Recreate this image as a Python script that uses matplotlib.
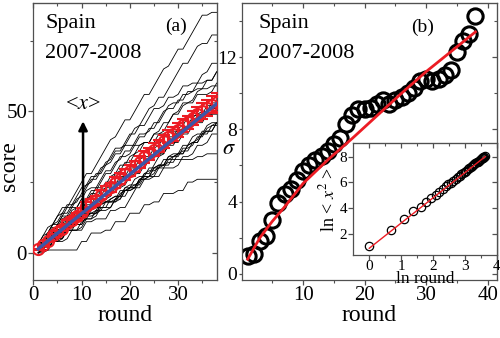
import matplotlib
matplotlib.use("Agg")
import matplotlib.pyplot as plt
import numpy as np

plt.rcParams["font.family"] = ["Liberation Serif", "DejaVu Serif"]
plt.rcParams["mathtext.fontset"] = "stix"

# match results per team, Spain 2007-2008 (W=3, D=1, L=0), 38 rounds each
results = [
    "WWWDWWLWWW" "WLWWWWDWWL" "WWWLWWWDWW" "LWWWWLDL",   # 85
    "WDWLWWWLWD" "WWLWWDWLWW" "LWWWDWLWWW" "WLWWDLWL",   # 77
    "WDWWWDWLWW" "DWLWDWWLDW" "WDLWWLDWLD" "WLDLWDWL",   # 67
    "LWWDWLWWLW" "WDLWWLWDWL" "WWLDWLWWDL" "WLDDLWLW",   # 64
    "WLWWLWDLWW" "LWLWWLWWLD" "WWLWLWWDLW" "LWLWLDLW",   # 64
    "DLWWDLWWLD" "WWLDWLWDWL" "WWDLWLDWWL" "WDLWLLDW",   # 60
    "DWDLWDWWDL" "WDWLDWDWLW" "DDWLWDWLWD" "WLDWDLDL",   # 59
    "LDWWLDWLDW" "DLWWDLLWDW" "LWDLWDWLLW" "DWLDDLWL",   # 53
    "LDLWLLDWLL" "WLDLLWLDLW" "WWWLWWDWLW" "WDWDLWLL",   # 52
    "WWDWLWLLDW" "LLWLWDLWLL" "WLLWDLWWLW" "LDWLLWDL",   # 51
    "LDWLDWLWDL" "WDLWLDWLDW" "DLWWLDLWDL" "WLWDLWLD",   # 50
    "WDWWDWLWDW" "WDWLWDWLWL" "LLDLLWLDLL" "DLWDDLLL",   # 49
    "LDLWLDWLLD" "WLDWLLWDLW" "DLWLWDLWLD" "WLWDLWDL",   # 46
    "DLLWDLWLWD" "LWDLLWDLWL" "WDLWLDLWDL" "LWDLWLWD",   # 46
    "DDLWDLWDLL" "WDLDWLDWLD" "LWDLDWLDLW" "DLWDWLLW",   # 46
    "LDWDLLWDDL" "WLDWDLLDWL" "DWLDLWDLWD" "LWDLWDLW",   # 46
    "LLDWLWDLLW" "DLWLLDWLWD" "LWLDWLLWDL" "WLDWLWDL",   # 45
    "DWLDLWDLWD" "LDLWDLLWDL" "DLWLDLWLLD" "WLDWLDWL",   # 42
    "DWLDDLWDLW" "DLDWLDDLWD" "LDWDLDWLLL" "LLLDLDLL",   # 35
    "DLLLLLLLLW" "LWLLDLWLLW" "LLWLDLWLLD" "LWLDLLLL",   # 26
]
result_points = {"W": 3, "D": 1, "L": 0}

rounds = np.arange(1, 39)

# sigma of the score per round, panel (b)
sigma = [1.0, 1.1, 1.8, 2.1, 3.0, 3.9, 4.4, 4.7, 5.2, 5.7,
         6.0, 6.3, 6.5, 6.8, 7.2, 7.5, 8.3, 8.8, 9.1, 9.1,
         9.2, 9.4, 9.6, 9.4, 9.6, 9.8, 10.0, 10.3, 10.7, 10.8,
         10.7, 10.8, 11.0, 11.3, 12.3, 12.9, 13.3, 14.3]

# red fit curve in panel (b)
fit_round = [1, 2, 3, 5, 7, 10, 14, 18, 22, 26, 30, 34, 38]
fit_sigma = [0.8, 1.4, 2.0, 2.9, 3.7, 5.0, 6.3, 7.5, 8.75, 10.0, 11.2, 12.3, 13.4]

# blue linear fit of <x> in panel (a)
mean_fit_round = [1, 38]
mean_fit_score = [1.4, 52.7]

# red line in the inset
inset_fit_x = [0.0, 3.64]
inset_fit_y = [0.92, 8.0]

RED = "#ec1c24"
BLUE = "#3b56a8"
SPINE = "#505050"


def style(ax, xmajor, xminor, ymajor, yminor, size=15):
    for s in ax.spines.values():
        s.set_color(SPINE)
        s.set_linewidth(0.9)
    ax.set_xticks(xmajor)
    ax.set_xticks(xminor, minor=True)
    ax.set_yticks(ymajor)
    ax.set_yticks(yminor, minor=True)
    ax.tick_params(which="both", direction="out", color=SPINE, labelsize=size, pad=1)
    ax.tick_params(which="major", length=3.5, width=0.9)
    ax.tick_params(which="minor", length=2.5, width=0.8)
    top = ax.secondary_xaxis("top")
    top.set_xticks(xmajor)
    top.set_xticks(xminor, minor=True)
    top.tick_params(which="both", direction="in", color=SPINE, labeltop=False)
    top.tick_params(which="major", length=3.5, width=0.9)
    top.tick_params(which="minor", length=2.5, width=0.8)
    top.spines["top"].set_color(SPINE)
    right = ax.secondary_yaxis("right")
    right.set_yticks(ymajor)
    right.set_yticks(yminor, minor=True)
    right.tick_params(which="both", direction="in", color=SPINE, labelright=False)
    right.tick_params(which="major", length=3.5, width=0.9)
    right.tick_params(which="minor", length=2.5, width=0.8)
    right.spines["right"].set_color(SPINE)


scores = np.array([np.cumsum([result_points[c] for c in r]) for r in results])
sigma = np.array(sigma)

fig = plt.figure(figsize=(5, 3.38), dpi=100)
ax1 = fig.add_axes([0.0667, 0.1716, 0.3667, 0.8195])
ax2 = fig.add_axes([0.483, 0.1716, 0.511, 0.8195])
axin = fig.add_axes([0.7067, 0.2456, 0.2867, 0.3314])

# (a) score trajectories
for team in scores:
    ax1.plot(rounds, team, color="black", lw=0.6, zorder=2)
ax1.errorbar(rounds, scores.mean(axis=0), yerr=sigma / np.sqrt(len(scores)),
             fmt="o", mfc="none", mec=RED, ecolor=RED, ms=8, mew=1.5,
             elinewidth=1.5, capsize=4, capthick=1.5, zorder=3)
ax1.plot(mean_fit_round, mean_fit_score, color=BLUE, lw=2.4, zorder=4)
ax1.annotate("", xy=(10.3, 47.5), xytext=(10.3, 14.5),
             arrowprops=dict(arrowstyle="-|>", color="black", lw=1.8, mutation_scale=13),
             zorder=5)
ax1.text(10.3, 52.5, r"<$x$>", fontsize=16, ha="center", va="center")
ax1.text(0.064, 0.91, "Spain", transform=ax1.transAxes, fontsize=16)
ax1.text(0.064, 0.80, "2007-2008", transform=ax1.transAxes, fontsize=16)
ax1.text(0.72, 0.90, "(a)", transform=ax1.transAxes, fontsize=14)
ax1.set_xlim(0, 38)
ax1.set_ylim(-9.6, 88.3)
style(ax1, [0, 10, 20, 30], [5, 15, 25, 35], [0, 50], [25, 75])
ax1.set_xlabel("round", fontsize=17, labelpad=0)
ax1.set_ylabel("score", fontsize=17)
ax1.yaxis.set_label_coords(-0.075, 0.41)

# (b) sigma vs round
ax2.plot(rounds, sigma, "o", mfc="none", mec="black", ms=11, mew=2.2, zorder=2)
ax2.plot(fit_round, fit_sigma, color=RED, lw=2.0, zorder=3)
ax2.text(0.065, 0.91, "Spain", transform=ax2.transAxes, fontsize=16)
ax2.text(0.065, 0.80, "2007-2008", transform=ax2.transAxes, fontsize=16)
ax2.text(0.665, 0.895, "(b)", transform=ax2.transAxes, fontsize=14)
ax2.set_xlim(0, 41.5)
ax2.set_ylim(-0.35, 15.0)
style(ax2, [10, 20, 30, 40], [5, 15, 25, 35], [0, 4, 8, 12], [2, 6, 10, 14])
ax2.tick_params(axis="y", which="both", labelsize=14, pad=0.5)
ax2.tick_params(axis="y", which="major", length=2.5)
ax2.tick_params(axis="y", which="minor", length=2.0)
ax2.set_xlabel("round", fontsize=17, labelpad=0)
ax2.set_ylabel(r"$\sigma$", fontsize=16, rotation=0, ha="center", va="center")
ax2.yaxis.set_label_coords(-0.048, 0.47)

# inset: ln<x^2> vs ln round
ln_round = np.log(rounds)
ln_x2 = np.log((scores.astype(float) ** 2).mean(axis=0))
axin.plot(ln_round, ln_x2, "o", mfc="none", mec="black", ms=6, mew=0.9, zorder=2)
axin.plot(inset_fit_x, inset_fit_y, color=RED, lw=1.0, zorder=3)
axin.set_xlim(-0.5, 4.0)
axin.set_ylim(0.4, 9.05)
style(axin, [0, 1, 2, 3, 4], [0.5, 1.5, 2.5, 3.5], [2, 4, 6, 8], [], size=11)
axin.tick_params(axis="x", pad=0)
axin.set_xlabel("ln round", fontsize=12.5, labelpad=-1)
axin.set_ylabel(r"ln < $x^2$ >", fontsize=13, labelpad=1)

fig.savefig("out.png", dpi=100)
